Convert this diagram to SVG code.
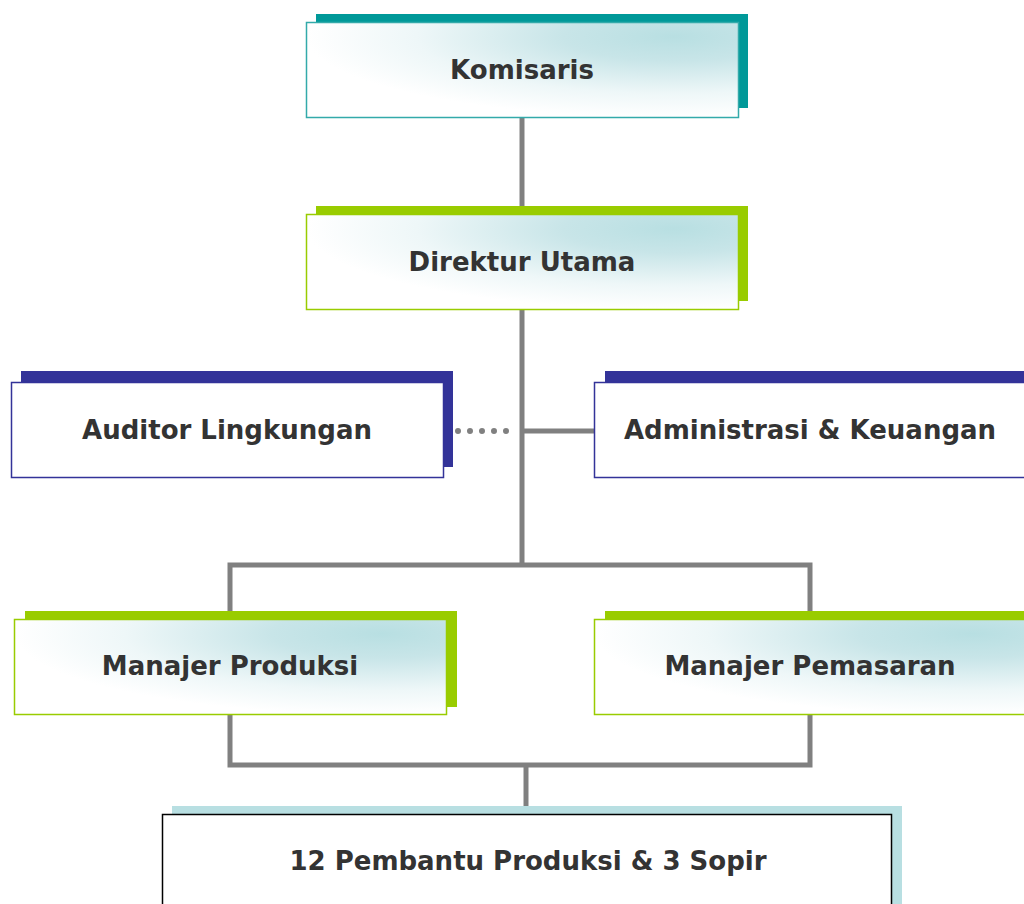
<svg xmlns="http://www.w3.org/2000/svg" width="1024" height="904" viewBox="0 0 1024 904">
<style>
.t{font-family:"DejaVu Sans","Liberation Sans",sans-serif;font-weight:bold;font-size:26px;fill:#333333;text-anchor:middle}
.ln{stroke:#808080;stroke-width:5;fill:none}
</style>
<defs>
<radialGradient id="g" cx="0.85" cy="0.15" r="0.85" fx="0.85" fy="0.15">
<stop offset="0" stop-color="#b8dfe2"/>
<stop offset="0.3" stop-color="#c8e5e8"/>
<stop offset="0.7" stop-color="#eef7f8"/>
<stop offset="1" stop-color="#ffffff"/>
</radialGradient>
</defs>
<rect width="1024" height="904" fill="#ffffff"/>
<g id="connectors">
<line class="ln" x1="522" y1="118" x2="522" y2="214"/>
<line class="ln" x1="522" y1="310" x2="522" y2="567"/>
<line class="ln" x1="522" y1="431" x2="594" y2="431"/>
<line x1="458" y1="431" x2="510" y2="431" stroke="#808080" stroke-width="6" stroke-linecap="round" stroke-dasharray="0 12"/>
<polyline class="ln" points="230,619 230,565 810,565 810,619"/>
<polyline class="ln" points="230,715 230,765 810,765 810,715"/>
<line class="ln" x1="526" y1="765" x2="526" y2="814"/>
</g>
<g id="komisaris">
<rect x="316" y="14" width="432" height="94" fill="#009999"/>
<rect x="306.5" y="22.5" width="432" height="95" fill="url(#g)" stroke="#33aaaa" stroke-width="1.5"/>
<text class="t" x="522" y="79">Komisaris</text>
</g>
<g id="direktur">
<rect x="316" y="206" width="432" height="95" fill="#99cc00"/>
<rect x="306.5" y="214.5" width="432" height="95" fill="url(#g)" stroke="#99cc00" stroke-width="1.5"/>
<text class="t" x="522" y="271">Direktur Utama</text>
</g>
<g id="auditor">
<rect x="21" y="371" width="432" height="96" fill="#333399"/>
<rect x="11.5" y="382.5" width="432" height="95" fill="#ffffff" stroke="#333399" stroke-width="1.5"/>
<text class="t" x="227" y="439">Auditor Lingkungan</text>
</g>
<g id="administrasi">
<rect x="605" y="371" width="432" height="96" fill="#333399"/>
<rect x="594.5" y="382.5" width="445" height="95" fill="#ffffff" stroke="#333399" stroke-width="1.5"/>
<text class="t" x="810" y="439">Administrasi &amp; Keuangan</text>
</g>
<g id="manajer-produksi">
<rect x="25" y="611" width="432" height="96" fill="#99cc00"/>
<rect x="14.5" y="619.5" width="432" height="95" fill="url(#g)" stroke="#99cc00" stroke-width="1.5"/>
<text class="t" x="230" y="675">Manajer Produksi</text>
</g>
<g id="manajer-pemasaran">
<rect x="605" y="611" width="432" height="96" fill="#99cc00"/>
<rect x="594.5" y="619.5" width="445" height="95" fill="url(#g)" stroke="#99cc00" stroke-width="1.5"/>
<text class="t" x="810" y="675">Manajer Pemasaran</text>
</g>
<g id="pembantu">
<rect x="172" y="806" width="730" height="110" fill="#b8dfe2"/>
<rect x="162.5" y="814.5" width="729" height="100" fill="#ffffff" stroke="#000000" stroke-width="1.5"/>
<text class="t" x="528" y="870">12 Pembantu Produksi &amp; 3 Sopir</text>
</g>
</svg>
